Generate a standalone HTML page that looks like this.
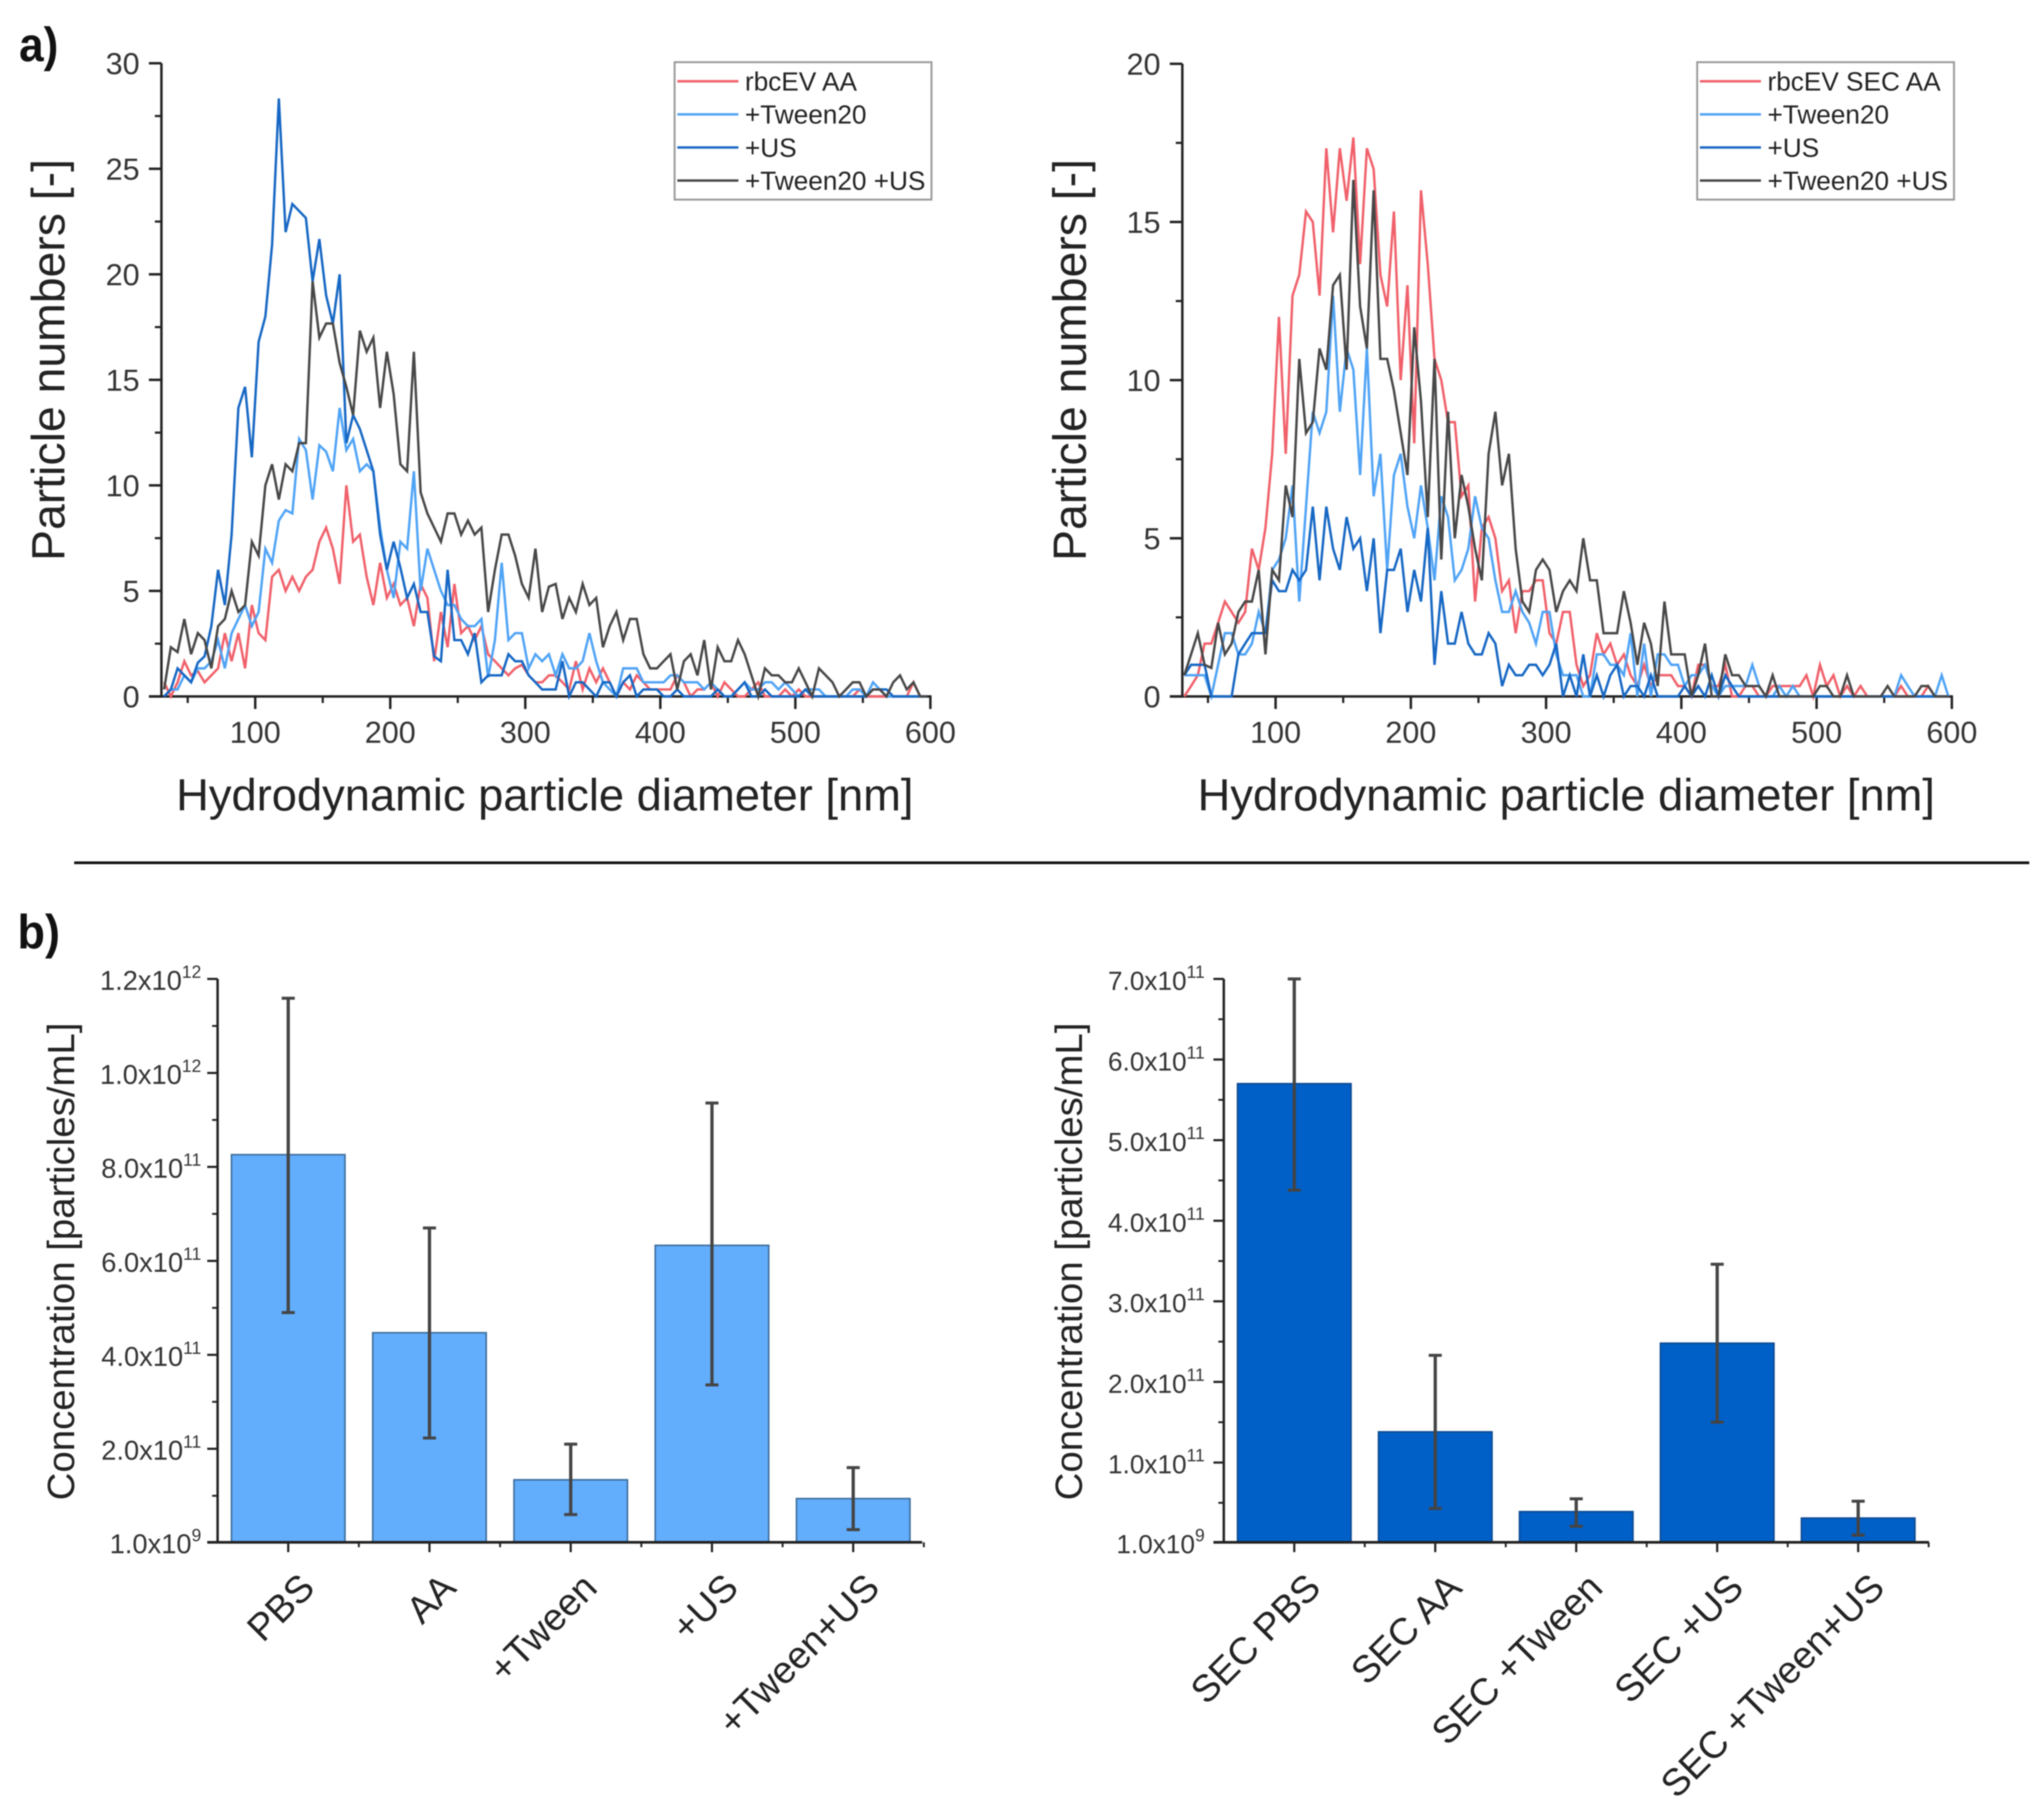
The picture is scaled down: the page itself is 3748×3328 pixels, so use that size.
<!DOCTYPE html>
<html lang="en">
<head>
<meta charset="utf-8">
<title>Particle size distributions and concentrations</title>
<style>
html,body{margin:0;padding:0;background:#fff;}
#figure{display:block;width:3748px;height:3328px;font-family:"Liberation Sans",sans-serif;filter:blur(1.1px);}
</style>
</head>
<body>
<svg id="figure" xmlns="http://www.w3.org/2000/svg" width="3748" height="3328" viewBox="0 0 3748 3328">
  <rect x="0" y="0" width="3748" height="3328" fill="#fff"/>
  <text x="35" y="112" font-size="88" font-weight="bold" fill="#111" textLength="72" lengthAdjust="spacingAndGlyphs">a)</text>
  <text x="32" y="1739" font-size="88" font-weight="bold" fill="#111" textLength="78" lengthAdjust="spacingAndGlyphs">b)</text>
  <line x1="136" y1="1582" x2="3721" y2="1582" stroke="#111" stroke-width="5"/>

  <text x="999" y="1486" font-size="83" fill="#222" text-anchor="middle" textLength="1352" lengthAdjust="spacingAndGlyphs">Hydrodynamic particle diameter [nm]</text>
  <text x="2872" y="1486" font-size="83" fill="#222" text-anchor="middle" textLength="1352" lengthAdjust="spacingAndGlyphs">Hydrodynamic particle diameter [nm]</text>
  <text transform="translate(118,660) rotate(-90)" font-size="85" fill="#222" text-anchor="middle">Particle numbers [-]</text>
  <text transform="translate(1991,660) rotate(-90)" font-size="85" fill="#222" text-anchor="middle">Particle numbers [-]</text>
  <text transform="translate(136,2313) rotate(-90)" font-size="70" fill="#222" text-anchor="middle" textLength="876" lengthAdjust="spacingAndGlyphs">Concentration [particles/mL]</text>
  <text transform="translate(1984,2313) rotate(-90)" font-size="70" fill="#222" text-anchor="middle" textLength="876" lengthAdjust="spacingAndGlyphs">Concentration [particles/mL]</text>

  <g id="chart-left"></g>
  <g id="chart-right"></g>
  <g id="bars-left"></g>
  <g id="bars-right"></g>
</svg>

<script>
// ---------- Size distribution data (bins are 5 nm wide, first bin centre 32.5 nm) ----------
const binStart = 32.5;
const binStep = 5;
const xTickValues = [100, 200, 300, 400, 500, 600];
const xMinorValues = [50, 150, 250, 350, 450, 550];
const yTicksLeft = [0, 5, 10, 15, 20, 25, 30];
const yMinorLeft = [2.5, 7.5, 12.5, 17.5, 22.5, 27.5];
const yTicksRight = [0, 5, 10, 15, 20];
const yMinorRight = [2.5, 7.5, 12.5, 17.5];

const leftLegendLabels = ["rbcEV AA", "+Tween20", "+US", "+Tween20 +US"];
const rightLegendLabels = ["rbcEV SEC AA", "+Tween20", "+US", "+Tween20 +US"];

const leftAA = [
.67,0,.67,1.67,1,1.2,.67,1,1.33,3,
1.67,3,1.33,4.33,3,2.67,5.67,6,5,5.67,
5,5.67,6,7.33,8,7,5.33,10,7.33,7.67,
5.67,4.33,6.33,4.67,5.33,4.33,4.67,3.33,5.33,4.67,
1.67,4,2.33,5.33,3,3.33,2.67,3.33,2,1.67,
1.33,1,1.33,1.5,1,.67,.67,1,1,.67,
.33,1.67,.33,1.33,.67,1.33,.67,0,.67,.33,
1,.67,.33,.33,.33,.33,1,.67,0,.33,
.33,.67,0,.67,.33,0,0,.33,.67,0,
0,0,.33,0,.33,0,0,0,0,0,
0,0,0,.33,0,0,0,0,0,0,
0,.67,0,0];
const leftTween = [
0,.33,.33,1,.67,1.33,1.33,1.67,2.67,1.33,
3,3.67,4.33,3.33,4,7,6.33,8.33,8.83,8.67,
12.2,11.67,9.33,11.9,11.6,10.67,13.67,11.67,12.2,10.67,
11,10.67,8,6,4.67,7.33,7,10.67,5,7,
6,5,4.33,4.33,3.67,3.33,3.33,3.67,.9,2.67,
6.33,2.67,3,3,1.33,2,1.67,2,1,2,
1.33,1.33,1.67,3,1.67,.67,.33,0,1.33,1.33,
1.33,.67,.67,.67,.67,1,1,.67,.67,.67,
.33,.67,.33,0,0,.33,.67,.33,.33,.67,
.67,.33,.67,.33,0,.33,.33,.33,0,0,
0,0,.33,.33,0,.67,.33,0,0,0,
0,0,0,0];
const leftUS = [
0,.33,1.33,1,.67,1.6,1.9,3.33,6,4.33,
7.67,13.67,14.67,11.33,16.8,18,21.4,28.33,22,23.33,
23,22.67,19.67,21.67,19,17.67,20,12,13.33,12.67,
11.67,10.67,7.67,6,7.33,6.1,4.67,5.33,4,4,
1.9,1.67,6,2.67,2.67,2,3,.67,1,1,
1,2,1.67,1.67,1,.67,.33,.33,.33,1.67,
0,.67,.67,.33,0,.67,.67,0,.67,1,
0,.33,.33,.33,0,0,.33,0,0,0,
0,0,.33,0,0,.33,.67,0,0,.33,
0,0,0,0,0,.33,0,0,0,0,
0,0,0,0,0,.33,.33,.33,0,0,
0,0,0,0];
const leftTweenUS = [
.33,2.33,2.1,3.67,2,3,2.67,1.33,3.33,3.67,
5,4,4.33,7.33,6.67,10,11,9.33,11,10.67,
12,12,19.67,17,17.67,17.67,15.8,14.67,13.33,17.33,
16.33,17,13.67,16.33,14.33,11,10.67,16.33,9.67,8.67,
8,7.33,8.67,8.67,7.67,8.33,7.67,8,4,6,
7.67,7.67,6.67,5.33,4.67,7,4,5.2,5.33,3.67,
4.67,4,5.33,4.33,4.67,2.33,3.33,4,2.67,3.67,
3.67,2,1.33,1.33,1.67,2,.33,1.67,2,1,
2.67,.33,2.33,1.67,1.67,2.67,2,1,0,1.33,
1,1,.67,.67,1.33,.67,0,1.33,1,.67,
0,.33,.67,.67,0,.33,.33,0,.67,1,
.33,.67,0,0];

const rightAA = [
0,.33,.67,1.67,1.67,2.33,3,2.67,2.33,2.67,
4.67,4,5.33,7.67,12,7.67,12.67,13.33,15.33,15,
12.67,17.33,14.67,17.33,15.67,17.67,13.67,17.33,16.67,13.33,
12.33,15.33,10,13,8,16,13.67,10.67,10,8.67,
8.67,6.33,6.67,3,5.33,5.67,5,3.33,3.67,2,
3.33,3.33,3.67,3.67,2,1.67,2.67,2.67,1,.33,
.67,2,1.33,1.67,1,1.33,.67,.33,1,.33,
.67,.67,.67,.33,.33,0,1,1,.33,.33,
1,0,0,.33,.33,0,0,.33,.33,.33,
.33,.33,.67,0,1,.33,.67,0,.33,0,
.33,0,0,0,0,0,.33,0,0,0,
.33,0,0,0];
const rightTween = [
.67,.67,.67,.67,0,1,2,2,1.33,1.33,
1.67,2.67,2,4,4.33,5,6.67,3,6,9,
8.33,9,12.67,9,11,10.33,7,11,6.33,7.67,
4,7,7.67,6,5,6.67,5.33,3.67,6.33,5.67,
3.67,4,4.67,6.33,5.33,5,3.67,2.67,2.67,3.33,
2.67,2.33,1.67,2.67,2.67,1.33,.67,.67,.67,0,
0,1.33,1.33,1,1,.67,2,0,1.67,0,
1.33,1.33,1,1,.33,.67,.67,1,.33,0,
.33,.33,.33,.33,1,.33,0,0,.33,0,
.33,0,0,0,0,0,0,0,0,0,
0,0,0,0,0,0,.67,.33,0,0,
0,0,.67,0];
const rightUS = [
.67,1,1,1,0,0,0,0,1.33,1.67,
2,2,2,3.67,3.33,3.33,4,3.67,4,6,
3.67,6,4.67,4,5.67,4.67,5,3.33,5,2,
4,4,4.67,2.67,4,3,5.33,1,3.33,1.67,
1.67,2.67,1.67,1.33,1.33,2,1.67,.33,1,.67,
.67,1,1,.67,1,1.67,0,.67,0,1.33,
0,.67,0,.67,1,0,.33,.33,0,.67,
0,0,0,0,.33,0,.33,0,.67,0,
.67,.33,0,0,0,0,0,0,0,0,
0,0,0,0,0,0,0,0,0,0,
0,0,0,0,0,0,0,0,0,0,
0,0,0,0];
const rightTweenUS = [
.67,1.33,2,1,.9,2.33,1.33,1.67,2.67,3,
3,4,1.33,4,3.67,6.67,5.67,10.67,8.33,8.67,
11,10.33,13,13.33,10.33,16.33,12.33,11,16,10.67,
10.67,9.67,8.33,7,11.67,9.33,5.67,10.67,4.33,9,
5,7,6,4.67,3.67,7.67,9,6.67,7.67,4.67,
3,2.67,4,4.33,4,2.67,3.33,3.67,3.33,5,
3.67,3.67,2,2,2,3.33,2.33,1,2.33,1.67,
.33,3,1.33,1.33,1.33,0,.67,1.67,0,0,
1.33,.67,.67,.33,.33,.33,0,.67,0,0,
0,0,0,0,.33,.33,0,0,.67,0,
0,0,0,0,.33,0,0,0,0,.33,
.33,0,0,0];

// ---------- Concentration bar data ----------
const barCatsLeft = ["PBS", "AA", "+Tween", "+US", "+Tween+US"];
const barValsLeft = [8.26e11, 4.47e11, 1.34e11, 6.33e11, 0.94e11];
const barErrTopLeft = [1.159e12, 6.7e11, 2.1e11, 9.36e11, 1.6e11];
const barErrBotLeft = [4.9e11, 2.23e11, 0.6e11, 3.36e11, 0.28e11];
const barTickValsLeft = [1e9, 2e11, 4e11, 6e11, 8e11, 1e12, 1.2e12];
const barTickMainLeft = ["1.0x10", "2.0x10", "4.0x10", "6.0x10", "8.0x10", "1.0x10", "1.2x10"];
const barTickExpLeft = ["9", "11", "11", "11", "11", "12", "12"];
const barMinorLeft = [1e11, 3e11, 5e11, 7e11, 9e11, 1.1e12];

const barCatsRight = ["SEC PBS", "SEC AA", "SEC +Tween", "SEC +US", "SEC +Tween+US"];
const barValsRight = [5.7e11, 1.38e11, 0.39e11, 2.48e11, 0.31e11];
const barErrTopRight = [7e11, 2.33e11, 0.55e11, 3.46e11, 0.52e11];
const barErrBotRight = [4.38e11, 0.43e11, 0.21e11, 1.5e11, 0.1e11];
const barTickValsRight = [1e9, 1e11, 2e11, 3e11, 4e11, 5e11, 6e11, 7e11];
const barTickMainRight = ["1.0x10", "1.0x10", "2.0x10", "3.0x10", "4.0x10", "5.0x10", "6.0x10", "7.0x10"];
const barTickExpRight = ["9", "11", "11", "11", "11", "11", "11", "11"];
const barMinorRight = [0.5e11, 1.5e11, 2.5e11, 3.5e11, 4.5e11, 5.5e11, 6.5e11];

// ---------- Drawing ----------
const NS = "http://www.w3.org/2000/svg";
const seriesColors = ["#f0606a", "#4fa3f5", "#1667c4", "#474747"];
const seriesNames = ["aa", "tween20", "us", "tween20-us"];

function mk(tag, attrs, parent) {
  const el = document.createElementNS(NS, tag);
  for (const k in attrs) el.setAttribute(k, attrs[k]);
  parent.appendChild(el);
  return el;
}

function drawSizeChart(root, axisX, axisXEnd, xAt, yAt, yMax, yTicks, yMinor, series, legendLabels, legendDx) {
  const axisY = yAt(0);
  const axisTop = yAt(yMax);
  const axisColor = "#222";

  const yAxis = mk("line", {x1: axisX, y1: axisTop, x2: axisX, y2: axisY + 2, stroke: axisColor, "stroke-width": 4.5}, root);
  
  
  const xAxis = mk("line", {x1: axisX - 23, y1: axisY, x2: axisXEnd + 2, y2: axisY, stroke: axisColor, "stroke-width": 4.5}, root);
  
  

  yTicks.forEach(function (v) {
    const tick = mk("line", {x1: axisX - 23, y1: yAt(v), x2: axisX, y2: yAt(v), stroke: axisColor, "stroke-width": 4.5}, root);
    
    
    const label = mk("text", {x: axisX - 40, y: yAt(v) + 20, "font-size": 56, fill: "#333", "text-anchor": "end"}, root);
    label.textContent = String(v);
    
    
  });
  yMinor.forEach(function (v) {
    const tick = mk("line", {x1: axisX - 12, y1: yAt(v), x2: axisX, y2: yAt(v), stroke: axisColor, "stroke-width": 4}, root);
    
    
  });
  xTickValues.forEach(function (v) {
    const tick = mk("line", {x1: xAt(v), y1: axisY, x2: xAt(v), y2: axisY + 23, stroke: axisColor, "stroke-width": 4.5}, root);
    
    
    const label = mk("text", {x: xAt(v), y: axisY + 85, "font-size": 56, fill: "#333", "text-anchor": "middle"}, root);
    label.textContent = String(v);
    
    
  });
  xMinorValues.forEach(function (v) {
    const tick = mk("line", {x1: xAt(v), y1: axisY, x2: xAt(v), y2: axisY + 12, stroke: axisColor, "stroke-width": 4}, root);
    
    
  });

  series.forEach(function (vals, s) {
    const pts = vals.map(function (v, i) {
      return xAt(binStart + i * binStep).toFixed(1) + "," + yAt(v).toFixed(1);
    }).join(" ");
    const line = mk("polyline", {points: pts, fill: "none", stroke: seriesColors[s], "stroke-width": 4.4, "stroke-linejoin": "miter"}, root);
    
    
  });

  const box = mk("rect", {x: 1237 + legendDx, y: 114, width: 471, height: 252, fill: "#fff", stroke: "#999", "stroke-width": 3.5}, root);
  
  
  legendLabels.forEach(function (txt, s) {
    const ly = 149 + s * 60.7;
    const swatch = mk("line", {x1: 1242 + legendDx, y1: ly, x2: 1354 + legendDx, y2: ly, stroke: seriesColors[s], "stroke-width": 4.4}, root);
    
    
    const t = mk("text", {x: 1366 + legendDx, y: ly + 17, "font-size": 48, fill: "#222"}, root);
    t.textContent = txt;
    
    
  });
}

function drawBarChart(root, axisX, axisXEnd, pitch, barW, yAt, cats, vals, errTop, errBot, tickVals, tickMain, tickExp, minorVals, fill, edge, mainSize, expSize, labelRight) {
  const axisY = yAt(1e9);
  const axisColor = "#222";

  cats.forEach(function (cat, i) {
    const cx = axisX + pitch * (i + 0.5);
    const bar = mk("rect", {x: cx - barW / 2, y: yAt(vals[i]), width: barW, height: axisY - yAt(vals[i]), fill: fill, stroke: edge, "stroke-width": 3}, root);
    
    
    const stem = mk("line", {x1: cx, y1: yAt(errTop[i]), x2: cx, y2: yAt(errBot[i]), stroke: "#444", "stroke-width": 6}, root);
    
    
    const capTop = mk("line", {x1: cx - 12, y1: yAt(errTop[i]), x2: cx + 12, y2: yAt(errTop[i]), stroke: "#444", "stroke-width": 5.5}, root);
    
    
    const capBot = mk("line", {x1: cx - 12, y1: yAt(errBot[i]), x2: cx + 12, y2: yAt(errBot[i]), stroke: "#444", "stroke-width": 5.5}, root);
    
    

    const tick = mk("line", {x1: cx, y1: axisY, x2: cx, y2: axisY + 18, stroke: axisColor, "stroke-width": 4}, root);
    
    
    const edgeTick = mk("line", {x1: axisX + pitch * (i + 1), y1: axisY, x2: axisX + pitch * (i + 1), y2: axisY + 9, stroke: axisColor, "stroke-width": 3.5}, root);
    
    

    const ax = cx + 52;
    const ay = 2915;
    const label = mk("text", {transform: "translate(" + ax + "," + ay + ") rotate(-45)", "font-size": 69.5, fill: "#222", "text-anchor": "end"}, root);
    label.textContent = cat;
    
    
  });

  const yAxis = mk("line", {x1: axisX, y1: yAt(tickVals[tickVals.length - 1]), x2: axisX, y2: axisY + 2, stroke: axisColor, "stroke-width": 4.5}, root);
  
  
  const xAxis = mk("line", {x1: axisX - 19, y1: axisY, x2: axisXEnd, y2: axisY, stroke: axisColor, "stroke-width": 5}, root);
  
  

  tickVals.forEach(function (v, i) {
    const tick = mk("line", {x1: axisX - 19, y1: yAt(v), x2: axisX, y2: yAt(v), stroke: axisColor, "stroke-width": 4}, root);
    
    
    const label = mk("text", {x: labelRight, y: yAt(v) + 20, fill: "#333", "font-size": mainSize, "text-anchor": "end"}, root);
    
    
    const main = mk("tspan", {}, label);
    main.textContent = tickMain[i];
    const exp = mk("tspan", {"font-size": expSize, dy: -22}, label);
    exp.textContent = tickExp[i];
  });
  minorVals.forEach(function (v) {
    const tick = mk("line", {x1: axisX - 10, y1: yAt(v), x2: axisX, y2: yAt(v), stroke: axisColor, "stroke-width": 3.5}, root);
    
    
  });
}

drawSizeChart(document.getElementById("chart-left"), 296, 1706,
  function (v) { return 468 + (v - 100) * 2.476; },
  function (v) { return 1277 - v * 38.7; },
  30, yTicksLeft, yMinorLeft, [leftAA, leftTween, leftUS, leftTweenUS], leftLegendLabels, 0);

drawSizeChart(document.getElementById("chart-right"), 2168, 3579,
  function (v) { return 2339 + (v - 100) * 2.48; },
  function (v) { return 1277 - v * 58; },
  20, yTicksRight, yMinorRight, [rightAA, rightTween, rightUS, rightTweenUS], rightLegendLabels, 1875);

drawBarChart(document.getElementById("bars-left"), 399, 1691, 259, 208,
  function (v) { return 2828 - (v - 1e9) * 861.5e-12; },
  barCatsLeft, barValsLeft, barErrTopLeft, barErrBotLeft,
  barTickValsLeft, barTickMainLeft, barTickExpLeft, barMinorLeft,
  "#62aefd", "#3f6f9f", 50, 32, 369);

drawBarChart(document.getElementById("bars-right"), 2244, 3537, 258.5, 208,
  function (v) { return 2828 - (v - 1e9) * 1477.8e-12; },
  barCatsRight, barValsRight, barErrTopRight, barErrBotRight,
  barTickValsRight, barTickMainRight, barTickExpRight, barMinorRight,
  "#0060c8", "#0b4a94", 48, 32, 2209);
</script>
</body>
</html>
